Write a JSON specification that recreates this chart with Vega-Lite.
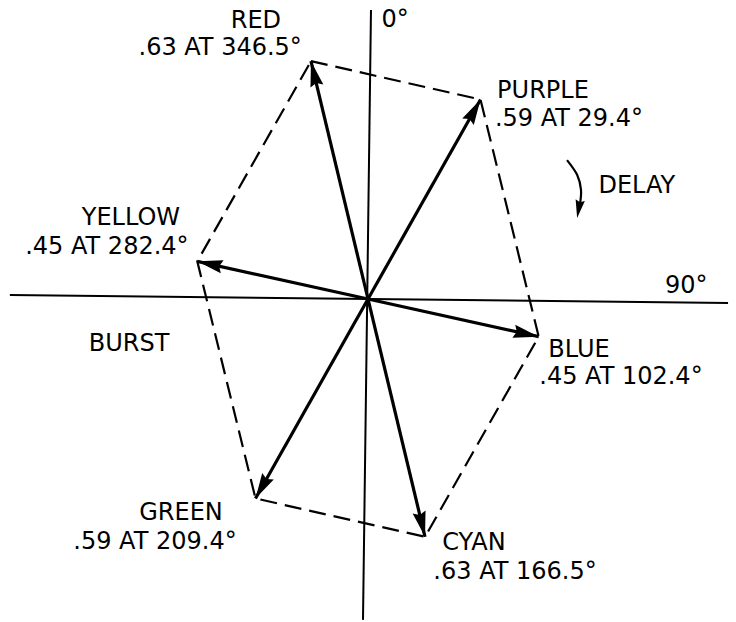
{
  "$schema": "https://vega.github.io/schema/vega-lite/v6.json",
  "width": 736,
  "height": 622,
  "autosize": {"type": "fit", "contains": "padding"},
  "padding": 0,
  "background": "white",
  "config": {"view": {"stroke": null}},
  "datasets": {
    "axes": [
      {"x": -0.923, "y": 0.0103, "x2": 0.928, "y2": -0.0103},
      {"x": 0.0077, "y": 0.745, "x2": -0.0129, "y2": -0.827}
    ],
    "vectors": [
      {"name": "RED", "seq": 1, "mag": 0.63, "angle": 346.5, "x": -0.147, "y": 0.613},
      {"name": "PURPLE", "seq": 2, "mag": 0.59, "angle": 29.4, "x": 0.290, "y": 0.514},
      {"name": "BLUE", "seq": 3, "mag": 0.45, "angle": 102.4, "x": 0.440, "y": -0.097},
      {"name": "CYAN", "seq": 4, "mag": 0.63, "angle": 166.5, "x": 0.147, "y": -0.613},
      {"name": "GREEN", "seq": 5, "mag": 0.59, "angle": 209.4, "x": -0.290, "y": -0.514},
      {"name": "YELLOW", "seq": 6, "mag": 0.45, "angle": 282.4, "x": -0.440, "y": 0.097}
    ],
    "curve": [
      {"i": 1, "x": 0.513, "y": 0.358},
      {"i": 2, "x": 0.539, "y": 0.320},
      {"i": 3, "x": 0.549, "y": 0.281},
      {"i": 4, "x": 0.546, "y": 0.242}
    ],
    "curvehead": [
      {"x": 0.539, "y": 0.209, "angle": 190}
    ],
    "labels": [
      {"text": "RED", "x": -0.289, "y": 0.716},
      {"text": ".63 AT 346.5°", "x": -0.381, "y": 0.647},
      {"text": "0°", "x": 0.070, "y": 0.719},
      {"text": "PURPLE", "x": 0.451, "y": 0.536},
      {"text": ".59 AT 29.4°", "x": 0.518, "y": 0.464},
      {"text": "DELAY", "x": 0.693, "y": 0.291},
      {"text": "YELLOW", "x": -0.611, "y": 0.209},
      {"text": ".45 AT 282.4°", "x": -0.673, "y": 0.134},
      {"text": "BURST", "x": -0.616, "y": -0.116},
      {"text": "90°", "x": 0.820, "y": 0.034},
      {"text": "BLUE", "x": 0.544, "y": -0.131},
      {"text": ".45 AT 102.4°", "x": 0.652, "y": -0.201},
      {"text": "GREEN", "x": -0.482, "y": -0.552},
      {"text": ".59 AT 209.4°", "x": -0.549, "y": -0.626},
      {"text": "CYAN", "x": 0.273, "y": -0.629},
      {"text": ".63 AT 166.5°", "x": 0.379, "y": -0.704}
    ]
  },
  "layer": [
    {
      "data": {"name": "axes"},
      "mark": {"type": "rule", "color": "black", "strokeWidth": 2},
      "encoding": {
        "x": {"field": "x", "type": "quantitative", "scale": {"domain": [-0.9485, 0.9485], "nice": false, "zero": false}, "axis": null},
        "y": {"field": "y", "type": "quantitative", "scale": {"domain": [-0.8325, 0.7706], "nice": false, "zero": false}, "axis": null},
        "x2": {"field": "x2"},
        "y2": {"field": "y2"}
      }
    },
    {
      "data": {"name": "vectors"},
      "mark": {"type": "line", "interpolate": "linear-closed", "color": "black", "strokeWidth": 2.2, "strokeDash": [17, 8]},
      "encoding": {
        "x": {"field": "x", "type": "quantitative", "scale": {"domain": [-0.9485, 0.9485], "nice": false, "zero": false}, "axis": null},
        "y": {"field": "y", "type": "quantitative", "scale": {"domain": [-0.8325, 0.7706], "nice": false, "zero": false}, "axis": null},
        "order": {"field": "seq", "type": "quantitative"}
      }
    },
    {
      "data": {"name": "vectors"},
      "mark": {"type": "rule", "color": "black", "strokeWidth": 3.2},
      "encoding": {
        "x": {"field": "x", "type": "quantitative", "scale": {"domain": [-0.9485, 0.9485], "nice": false, "zero": false}, "axis": null},
        "y": {"field": "y", "type": "quantitative", "scale": {"domain": [-0.8325, 0.7706], "nice": false, "zero": false}, "axis": null},
        "x2": {"datum": 0},
        "y2": {"datum": 0}
      }
    },
    {
      "data": {"name": "vectors"},
      "mark": {"type": "point", "shape": "M0,0 L-0.26,1 L0,0.88 L0.26,1 Z", "filled": true, "color": "black", "opacity": 1, "size": 2600, "strokeWidth": 0},
      "encoding": {
        "x": {"field": "x", "type": "quantitative", "scale": {"domain": [-0.9485, 0.9485], "nice": false, "zero": false}, "axis": null},
        "y": {"field": "y", "type": "quantitative", "scale": {"domain": [-0.8325, 0.7706], "nice": false, "zero": false}, "axis": null},
        "angle": {"field": "angle", "type": "quantitative", "scale": null}
      }
    },
    {
      "data": {"name": "curve"},
      "mark": {"type": "line", "interpolate": "cardinal", "color": "black", "strokeWidth": 2.2},
      "encoding": {
        "x": {"field": "x", "type": "quantitative", "scale": {"domain": [-0.9485, 0.9485], "nice": false, "zero": false}, "axis": null},
        "y": {"field": "y", "type": "quantitative", "scale": {"domain": [-0.8325, 0.7706], "nice": false, "zero": false}, "axis": null},
        "order": {"field": "i", "type": "quantitative"}
      }
    },
    {
      "data": {"name": "curvehead"},
      "mark": {"type": "point", "shape": "M0,0 L-0.26,1 L0,0.88 L0.26,1 Z", "filled": true, "color": "black", "opacity": 1, "size": 1300, "strokeWidth": 0},
      "encoding": {
        "x": {"field": "x", "type": "quantitative", "scale": {"domain": [-0.9485, 0.9485], "nice": false, "zero": false}, "axis": null},
        "y": {"field": "y", "type": "quantitative", "scale": {"domain": [-0.8325, 0.7706], "nice": false, "zero": false}, "axis": null},
        "angle": {"field": "angle", "type": "quantitative", "scale": null}
      }
    },
    {
      "data": {"name": "labels"},
      "mark": {"type": "text", "font": "DejaVu Sans", "fontSize": 24, "color": "black", "align": "center", "baseline": "middle"},
      "encoding": {
        "x": {"field": "x", "type": "quantitative", "scale": {"domain": [-0.9485, 0.9485], "nice": false, "zero": false}, "axis": null},
        "y": {"field": "y", "type": "quantitative", "scale": {"domain": [-0.8325, 0.7706], "nice": false, "zero": false}, "axis": null},
        "text": {"field": "text"}
      }
    }
  ]
}
